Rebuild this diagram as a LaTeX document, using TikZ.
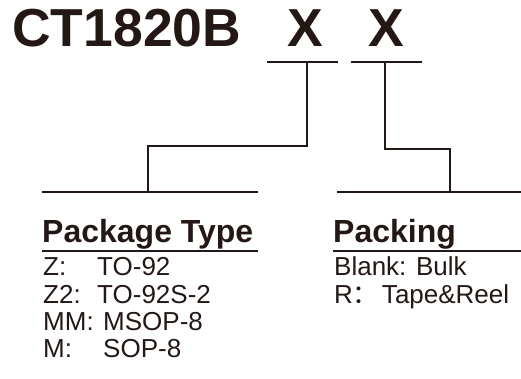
\documentclass[tikz,border=0pt]{standalone}
\usepackage{fontspec}
\setmainfont{Liberation Sans}
\newfontfamily\cjkfont{Noto Sans CJK SC}
\definecolor{ink}{HTML}{231815}
\begin{document}
\begin{tikzpicture}[x=1pt,y=-1pt,
  conn/.style={draw=ink,line width=1.7pt},
  title/.style={anchor=base west,inner sep=0pt,text=ink,font=\bfseries\fontsize{53.5}{53.5}\selectfont},
  head/.style={anchor=base west,inner sep=0pt,text=ink,font=\bfseries\fontsize{32}{32}\selectfont},
  body/.style={anchor=base west,inner sep=0pt,text=ink,font=\fontsize{26}{26}\selectfont}]
\useasboundingbox (0,0) rectangle (521,379);
% title
\node[title] (t) at (12,47) {CT1820B};
\node[title] (x1) at (287,47) {X};
\node[title] (x2) at (368,47) {X};
% short bars
\coordinate (a1) at (267,62); \coordinate (a2) at (338,62);
\coordinate (b1) at (351,62); \coordinate (b2) at (422,62);
\draw[conn] (a1) -- (a2);
\draw[conn] (b1) -- (b2);
% long bars
\coordinate (l1) at (42,192); \coordinate (l2) at (258,192);
\coordinate (r1) at (337,192); \coordinate (r2) at (521,192);
\draw[conn] (l1) -- (l2);
\draw[conn] (r1) -- (r2);
% connectors
\coordinate (ta) at (307,62); \coordinate (ba) at (148,192);
\draw[conn] (ta) -- (307,146) -- (148,146) -- (ba);
\coordinate (tb) at (385,62); \coordinate (bb) at (450,192);
\draw[conn] (tb) -- (385,149) -- (450,149) -- (bb);
% headings
\node[head] (pt) at (42,242) {Package Type};
\node[head] (pk) at (333,242) {Packing};
\draw[conn] (42,251) -- (258,251);
\draw[conn] (333,251) -- (521,251);
% package list
\node[body] (z1) at (43,275) {Z:};
\node[body] (z1v) at (97,275) {TO-92};
\node[body] (z2) at (43,303) {Z2:};
\node[body] (z2v) at (97,303) {TO-92S-2};
\node[body] (mm) at (43,330) {MM:};
\node[body] (mmv) at (103,330) {MSOP-8};
\node[body] (m) at (43,357) {M:};
\node[body] (mv) at (103,357) {SOP-8};
% packing list
\node[body] (bl) at (334,275) {Blank: Bulk};
\node[body] (rr) at (334,303) {R{\cjkfont ：}\hspace{3pt}Tape\&Reel};
\end{tikzpicture}
\end{document}
